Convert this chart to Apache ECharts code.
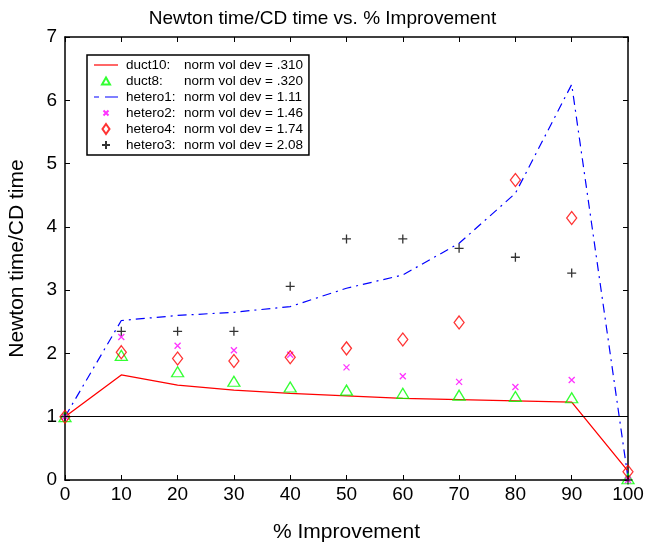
<!DOCTYPE html>
<html>
<head>
<meta charset="utf-8">
<script src="https://cdn.jsdelivr.net/npm/echarts@6/dist/echarts.min.js"></script>
<style>
  html, body { margin: 0; padding: 0; background: #fff; }
  #chart { width: 645px; height: 543px; }
</style>
</head>
<body>
<div id="chart"></div>
<script>
// % improvement values (x)
const improvement = [0, 10, 20, 30, 40, 50, 60, 70, 80, 90, 100];

// Newton time / CD time for each mesh
const duct10  = [1.0, 1.66, 1.50, 1.42, 1.37, 1.33, 1.29, 1.27, 1.25, 1.23, 0.14];
const duct8   = [1.0, 1.97, 1.71, 1.56, 1.47, 1.42, 1.37, 1.34, 1.32, 1.30, 0.02];
const hetero1 = [1.0, 2.52, 2.60, 2.65, 2.74, 3.03, 3.24, 3.74, 4.53, 6.25, 0.03];
const hetero2 = [1.0, 2.26, 2.12, 2.05, 1.98, 1.78, 1.64, 1.55, 1.47, 1.58, 0.0];
const hetero4 = [1.0, 2.02, 1.92, 1.88, 1.94, 2.08, 2.22, 2.49, 4.74, 4.14, 0.13];
const hetero3 = [1.0, 2.35, 2.35, 2.35, 3.06, 3.81, 3.81, 3.66, 3.52, 3.27, 0.0];

const legendNames = ['duct10', 'duct8', 'hetero1', 'hetero2', 'hetero4', 'hetero3'];
const devLabels = ['.310', '.320', '1.11', '1.46', '1.74', '2.08'];

function pairs(ys) {
  return improvement.map((x, i) => [x, ys[i]]);
}

const font = 'Liberation Sans, Arial, Helvetica, sans-serif';

// marker shapes
const crossPath = 'path://M0,0L10,10M10,0L0,10';
const plusPath = 'path://M5,0L5,10M0,5L10,5';

// legend icons, all in a 24x12 box so they keep their size
const box = 'path://M0,0M24,12';
const legendIcons = {
  duct10: box + 'M0,5.4L24,5.4L24,6.6L0,6.6Z',
  duct8: box + 'M8,9.5L16,9.5L12,2.5Z',
  hetero1: box + 'M0,5.4L5,5.4L5,6.6L0,6.6Z M11,5.4L24,5.4L24,6.6L11,6.6Z',
  hetero2: box + 'M9.5,3.5L14.5,8.5M14.5,3.5L9.5,8.5',
  hetero4: box + 'M12,1L15.5,6L12,11L8.5,6Z',
  hetero3: box + 'M12,2L12,10M8,6L16,6'
};

const axisBase = {
  axisLine: { show: true, onZero: false, lineStyle: { color: '#000', width: 1.5 } },
  axisTick: { show: true, inside: true, length: 5, lineStyle: { color: '#000', width: 1 } },
  splitLine: { show: false }
};

const option = {
  backgroundColor: '#fff',
  animation: false,
  textStyle: { fontFamily: font },
  title: {
    text: 'Newton time/CD time vs. % Improvement',
    left: 'center',
    top: 4,
    textStyle: { fontFamily: font, fontSize: 19, fontWeight: 'normal', color: '#000' }
  },
  grid: { left: 65, right: 17, top: 37, bottom: 63, containLabel: false, outerBoundsMode: 'none' },
  legend: {
    orient: 'vertical',
    left: 87,
    top: 55,
    padding: [3, 6, 3, 6],
    itemGap: 2,
    itemWidth: 24,
    itemHeight: 12,
    borderColor: '#000',
    borderWidth: 1.5,
    borderRadius: 0,
    backgroundColor: '#fff',
    data: legendNames.map(n => ({ name: n, icon: legendIcons[n] })),
    formatter: function (name) {
      const i = legendNames.indexOf(name);
      return '{a|' + name + ':}{b|norm vol dev = ' + devLabels[i] + '}';
    },
    textStyle: {
      fontFamily: font,
      fontSize: 13.5,
      color: '#000',
      rich: {
        a: { width: 58, fontSize: 13.5, fontFamily: font, color: '#000', padding: [0, 0, 0, 3] },
        b: { fontSize: 13.5, fontFamily: font, color: '#000' }
      }
    }
  },
  xAxis: [Object.assign({}, axisBase, {
    type: 'value',
    min: 0, max: 100, interval: 10,
    name: '% Improvement',
    nameLocation: 'middle',
    nameGap: 42,
    nameTextStyle: { fontFamily: font, fontSize: 21, color: '#000' },
    axisLabel: { fontFamily: font, fontSize: 19, color: '#000', margin: 5 }
  }), Object.assign({}, axisBase, {
    type: 'value',
    position: 'top',
    min: 0, max: 100, interval: 10,
    axisLabel: { show: false }
  })],
  yAxis: [Object.assign({}, axisBase, {
    type: 'value',
    min: 0, max: 7, interval: 1,
    name: 'Newton time/CD time',
    nameLocation: 'middle',
    nameGap: 37,
    nameTextStyle: { fontFamily: font, fontSize: 21, color: '#000' },
    axisLabel: { fontFamily: font, fontSize: 19, color: '#000', margin: 8 }
  }), Object.assign({}, axisBase, {
    type: 'value',
    position: 'right',
    min: 0, max: 7, interval: 1,
    axisLabel: { show: false }
  })],
  series: [
    {
      name: 'duct10',
      type: 'line',
      data: pairs(duct10),
      symbol: 'none',
      color: '#ff0000',
      lineStyle: { color: '#ff0000', width: 1.3 },
      markLine: {
        silent: true,
        symbol: 'none',
        label: { show: false },
        lineStyle: { color: '#000', width: 1.2, type: 'solid' },
        data: [{ yAxis: 1 }]
      },
      z: 3
    },
    {
      name: 'duct8',
      type: 'scatter',
      data: pairs(duct8),
      symbol: 'triangle',
      symbolSize: [12, 10],
      itemStyle: { color: 'transparent', borderColor: '#00ff00', borderWidth: 1.3 },
      z: 4
    },
    {
      name: 'hetero1',
      type: 'line',
      data: pairs(hetero1),
      symbol: 'none',
      color: '#0000ff',
      lineStyle: { color: '#0000ff', width: 1.2, type: [9, 5, 2, 5] },
      z: 3
    },
    {
      name: 'hetero2',
      type: 'scatter',
      data: pairs(hetero2),
      symbol: crossPath,
      symbolSize: 6,
      itemStyle: { color: 'transparent', borderColor: '#ff00ff', borderWidth: 1.3 },
      z: 4
    },
    {
      name: 'hetero4',
      type: 'scatter',
      data: pairs(hetero4),
      symbol: 'diamond',
      symbolSize: [10, 13],
      itemStyle: { color: 'transparent', borderColor: '#ff0000', borderWidth: 1.3 },
      z: 4
    },
    {
      name: 'hetero3',
      type: 'scatter',
      data: pairs(hetero3),
      symbol: plusPath,
      symbolSize: 9,
      itemStyle: { color: 'transparent', borderColor: '#000', borderWidth: 1.3 },
      z: 4
    }
  ]
};

const chart = echarts.init(document.getElementById('chart'));
chart.setOption(option);
</script>
</body>
</html>
